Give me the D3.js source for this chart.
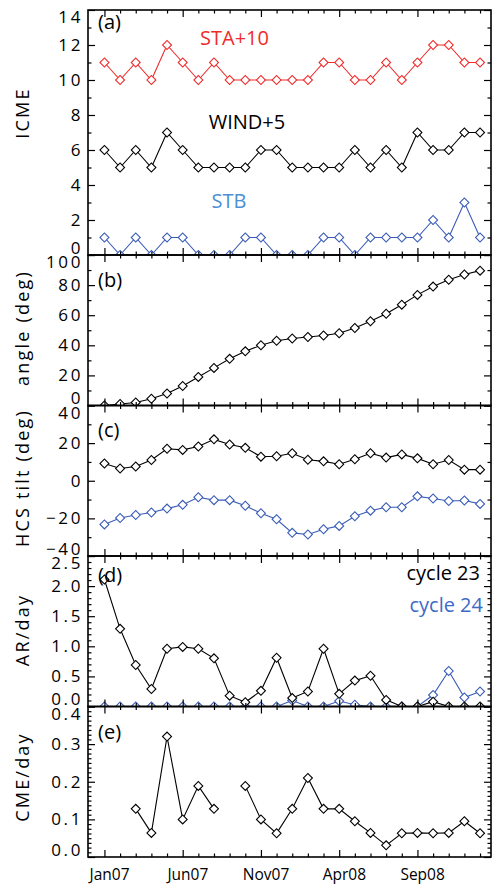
<!DOCTYPE html>
<html><head><meta charset="utf-8">
<script src="https://cdn.jsdelivr.net/npm/d3@7"></script>
<style>
body{margin:0;background:#fff;}
svg{display:block;}
.tick text{font-family:"Open Sans",sans-serif;}
</style></head>
<body><svg id="chart" width="494" height="887"></svg>
<script>
// ---------- data ----------
const monthIndex = d3.range(0, 25); // Jan07 .. Jan09
const xTickIdx = [0, 5, 10, 15, 20];
const xTickLabels = ["Jan07", "Jun07", "Nov07", "Apr08", "Sep08"];

const staPlus10 = [11,10,11,10,12,11,10,11,10,10,10,10,10,10,11,11,10,10,11,10,11,12,12,11,11];
const windPlus5 = [6,5,6,5,7,6,5,5,5,5,6,6,5,5,5,5,6,5,6,5,7,6,6,7,7];
const stb       = [1,0,1,0,1,1,0,0,0,1,1,0,0,0,1,1,0,1,1,1,1,2,1,3,1];

const angle = [0,1,2,4.5,8,13,19,25,31,36,40,43,44.5,45.5,46.5,48,51.5,56,61,67,73.5,79,83.6,87,89.6];

const hcsNorth = [9.2,6.5,7.6,11,17,16.4,18.2,22,19.3,17.5,12.8,13,14.6,11.2,10.3,8.8,11.4,14.6,12.3,14,11.9,8.8,11,5.9,5.9];
const hcsSouth = [-23.2,-19.8,-18.2,-16.9,-14.8,-12.8,-8.8,-10.3,-10.3,-13.3,-17.3,-20.5,-27.7,-28.6,-25.8,-24,-18.9,-15.9,-14.1,-14.1,-8.3,-9.4,-10.8,-10.5,-12.3];

const arCycle23 = [2.11,1.29,0.69,0.29,0.96,0.99,0.96,0.8,0.18,0.07,0.26,0.81,0.14,0.25,0.96,0.21,0.43,0.51,0.11,0,0,0.08,0,0,0];
const arCycle24 = [0,0,0,0,0,0,0,0,0,0,0,0,0.1,0,0,0.09,0.03,0,0,0,0,0.19,0.59,0.15,0.25];

const cmePerDay = [null,null,0.128,0.064,0.32,0.1,0.189,0.128,null,0.189,0.1,0.063,0.128,0.21,0.128,0.128,0.095,0.064,0.031,0.063,0.064,0.063,0.064,0.095,0.063];

// ---------- styles ----------
const RED = "#f02b2b", BLACK = "#000", BLUE = "#3a5cb8";

// ---------- layout ----------
const svg = d3.select("#chart");
const left = 88, right = 491;
const x = d3.scaleLinear().domain([-1.05, 24.7]).range([left, right]);

const panels = [
  {id:"a", top:10, bottom:255, domain:[0,14], major:d3.range(0,15,2), minor:d3.range(1,14,2),
   title:"ICME", titleY:113, fmt:d3.format("d"),
   series:[{v:staPlus10,c:RED},{v:windPlus5,c:BLACK},{v:stb,c:BLUE}]},
  {id:"b", top:255, bottom:405.5, domain:[0,100], major:d3.range(0,101,20), minor:d3.range(10,100,20),
   title:"angle (deg)", titleY:328, fmt:d3.format("d"),
   series:[{v:angle,c:BLACK}]},
  {id:"c", top:405.5, bottom:556, domain:[-40,40], major:d3.range(-40,41,20), minor:d3.range(-30,40,20),
   title:"HCS tilt (deg)", titleY:478, fmt:d3.format("d"),
   series:[{v:hcsNorth,c:BLACK},{v:hcsSouth,c:BLUE}]},
  {id:"d", top:556, bottom:706.5, domain:[0,2.5], major:d3.range(0,2.51,0.5), minor:d3.range(0,2.5,0.1),
   title:"AR/day", titleY:630, fmt:d3.format(".1f"),
   series:[{v:arCycle24,c:BLUE},{v:arCycle23,c:BLACK}]},
  {id:"e", top:706.5, bottom:857, domain:[0,0.4], major:d3.range(0,0.41,0.1), minor:d3.range(0,0.4,0.0125),
   title:"CME/day", titleY:777, fmt:d3.format(".1f"),
   series:[{v:cmePerDay,c:BLACK}]}
];

const diamond = d3.symbol().type(d3.symbolSquare).size(40);

panels.forEach((p, pi) => {
  const y = d3.scaleLinear().domain(p.domain).range([p.bottom, p.top]);
  const g = svg.append("g");

  // clip
  const clipId = "clip-" + p.id;
  svg.append("clipPath").attr("id", clipId).append("rect")
    .attr("x", left).attr("y", p.top).attr("width", right - left).attr("height", p.bottom - p.top);

  const plot = g.append("g").attr("clip-path", `url(#${clipId})`);
  p.series.forEach(s => {
    const line = d3.line().defined(d => d != null).x((d, i) => x(monthIndex[i])).y(d => y(d));
    plot.append("path").attr("d", line(s.v)).attr("fill", "none")
      .attr("stroke", s.c).attr("stroke-width", 1.1);
    plot.selectAll(null).data(s.v.map((v, i) => ({v, i})).filter(d => d.v != null))
      .enter().append("path")
      .attr("d", diamond)
      .attr("transform", d => `translate(${x(monthIndex[d.i])},${y(d.v)}) rotate(45)`)
      .attr("fill", "#fff").attr("stroke", s.c).attr("stroke-width", 1.1);
  });

  // axes: left (major with labels)
  const yMinorFiltered = p.minor.filter(v => !p.major.some(m => Math.abs(m - v) < 1e-9));
  const leftMaj = g.append("g").attr("transform", `translate(${left},0)`)
    .call(d3.axisLeft(y).tickValues(p.major).tickFormat(p.fmt).tickSizeInner(-7).tickSizeOuter(0).tickPadding(5));
  g.append("g").attr("transform", `translate(${left},0)`)
    .call(d3.axisLeft(y).tickValues(yMinorFiltered).tickFormat("").tickSizeInner(-3.5).tickSizeOuter(0));
  g.append("g").attr("transform", `translate(${right},0)`)
    .call(d3.axisRight(y).tickValues(p.major).tickFormat("").tickSizeInner(-7).tickSizeOuter(0));
  g.append("g").attr("transform", `translate(${right},0)`)
    .call(d3.axisRight(y).tickValues(yMinorFiltered).tickFormat("").tickSizeInner(-3.5).tickSizeOuter(0));

  leftMaj.selectAll(".tick text")
    .attr("font-size", 17).attr("letter-spacing", "2.6px").attr("fill", "#000");
  const texts = leftMaj.selectAll(".tick text").nodes();
  d3.select(texts[0]).attr("dy", "-0.1em");
  d3.select(texts[texts.length - 1]).attr("dy", "0.76em");

  // x axes top / bottom
  const xMinor = monthIndex.filter(i => !xTickIdx.includes(i));
  [["top", p.top, d3.axisTop], ["bottom", p.bottom, d3.axisBottom]].forEach(([k, yy, ax]) => {
    g.append("g").attr("transform", `translate(0,${yy})`)
      .call(ax(x).tickValues(xTickIdx).tickFormat("").tickSizeInner(-7).tickSizeOuter(0));
    g.append("g").attr("transform", `translate(0,${yy})`)
      .call(ax(x).tickValues(xMinor).tickFormat("").tickSizeInner(-3.5).tickSizeOuter(0));
  });

  g.selectAll(".domain").remove();
  g.selectAll(".tick line").attr("stroke", "#000").attr("stroke-width", 1.2);

  // frame
  g.append("rect").attr("x", left).attr("y", p.top).attr("width", right - left)
    .attr("height", p.bottom - p.top).attr("fill", "none").attr("stroke", "#000").attr("stroke-width", 1.6);

  // y title
  g.append("text").attr("transform", `translate(29,${p.titleY}) rotate(-90)`)
    .attr("text-anchor", "middle").attr("font-family", "Open Sans, sans-serif")
    .attr("font-size", 18).attr("letter-spacing", "2.2px").text(p.title);

  // panel letter
  const letterY = {a:28.5, b:287, c:436.5, d:582, e:738.5}[p.id];
  g.append("text").attr("x", 98).attr("y", letterY)
    .attr("font-family", "Open Sans, sans-serif").attr("font-size", 20).text(`(${p.id})`);

  // x labels on last panel
  if (pi === panels.length - 1) {
    const xl = g.append("g").attr("transform", `translate(0,${p.bottom})`)
      .call(d3.axisBottom(x).tickValues(xTickIdx).tickFormat((d, i) => xTickLabels[i]).tickSize(0).tickPadding(12));
    xl.select(".domain").remove();
    xl.selectAll(".tick text").attr("font-size", 15.5).attr("dx", "0.3em").attr("fill", "#000");
  }
});

// annotations
const ann = [
  {t:"STA+10", x:234.5, y:45, c:RED, a:"middle"},
  {t:"WIND+5", x:247, y:128.5, c:BLACK, a:"middle"},
  {t:"STB", x:229, y:208, c:"#4b8fd6", a:"middle"},
  {t:"cycle 23", x:480, y:580, c:BLACK, a:"end"},
  {t:"cycle 24", x:483, y:612, c:"#3d6ac7", a:"end"}
];
svg.selectAll(null).data(ann).enter().append("text")
  .attr("x", d => d.x).attr("y", d => d.y).attr("fill", d => d.c).attr("text-anchor", d => d.a)
  .attr("font-family", "Open Sans, sans-serif").attr("font-size", 20).text(d => d.t);
</script>
</body></html>
